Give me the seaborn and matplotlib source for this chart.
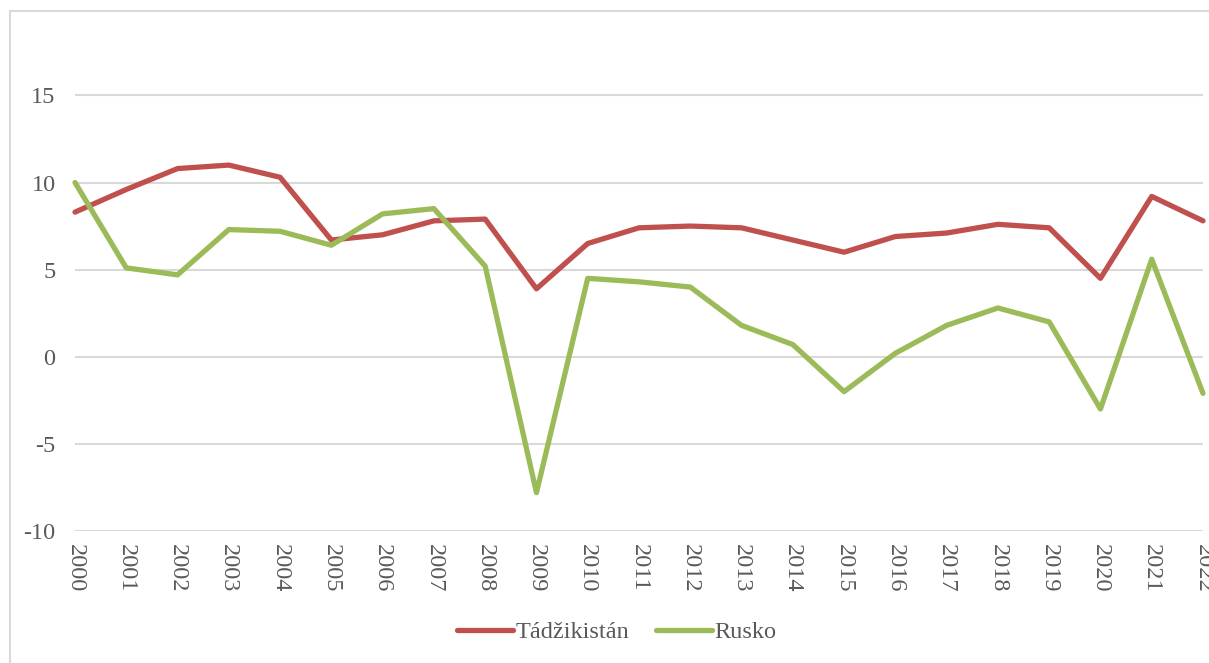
import pandas as pd
import matplotlib.pyplot as plt
import seaborn as sns
from matplotlib.patches import Rectangle

# Data
years = list(range(2000, 2023))
tadzikistan = [8.3, 9.6, 10.8, 11.0, 10.3, 6.7, 7.0, 7.8, 7.9, 3.9, 6.5, 7.4,
               7.5, 7.4, 6.7, 6.0, 6.9, 7.1, 7.6, 7.4, 4.5, 9.2, 7.8]
rusko = [10.0, 5.1, 4.7, 7.3, 7.2, 6.4, 8.2, 8.5, 5.2, -7.8, 4.5, 4.3,
         4.0, 1.8, 0.7, -2.0, 0.2, 1.8, 2.8, 2.0, -3.0, 5.6, -2.1]
series_names = ['Tádžikistán', 'Rusko']
colors = ['#c0504d', '#9bbb59']

df = pd.DataFrame({'Rok': years * 2,
                   'Hodnota': tadzikistan + rusko,
                   'Země': [series_names[0]] * len(years) + [series_names[1]] * len(years)})

sns.set_style('white')
plt.rcParams['font.family'] = ['Liberation Serif', 'DejaVu Serif']
plt.rcParams['axes.unicode_minus'] = False

fig = plt.figure(figsize=(12.09, 6.63), dpi=100)
ax = fig.add_axes([75 / 1209, 1 - 531 / 663, (1203 - 75) / 1209, (531 - 10) / 663])

sns.lineplot(data=df, x='Rok', y='Hodnota', hue='Země', palette=colors,
             linewidth=3.8, ax=ax, clip_on=False, zorder=3)

ax.set_xlim(2000, 2022)
ax.set_ylim(-10, 19.9)
ax.set_yticks([-10, -5, 0, 5, 10, 15])
ax.set_xticks(years)
ax.set_xticklabels([str(y) for y in years], rotation=-90)
ax.grid(axis='y', color='#d9d9d9', linewidth=1.5)
ax.grid(axis='x', visible=False)
for s in ax.spines.values():
    s.set_visible(False)
ax.tick_params(axis='both', length=0, labelsize=17.5, labelcolor='#595959')
ax.tick_params(axis='y', pad=14)
ax.tick_params(axis='x', pad=9)
ax.set_xlabel('')
ax.set_ylabel('')

# outer chart border
fig.patches.append(Rectangle((10 / 1209, -0.05), 1.1, 1 - 11 / 663 + 0.05,
                             transform=fig.transFigure, fill=False,
                             edgecolor='#d9d9d9', linewidth=1.5))

handles, labels = ax.get_legend_handles_labels()
ax.legend(handles, labels, loc='center', bbox_to_anchor=(617 / 1209, 1 - 632 / 663),
          bbox_transform=fig.transFigure, ncol=2, frameon=False, fontsize=17.5,
          labelcolor='#595959', handlelength=2.3, handletextpad=0.1, columnspacing=1.1)

fig.savefig('out.png', dpi=100)
